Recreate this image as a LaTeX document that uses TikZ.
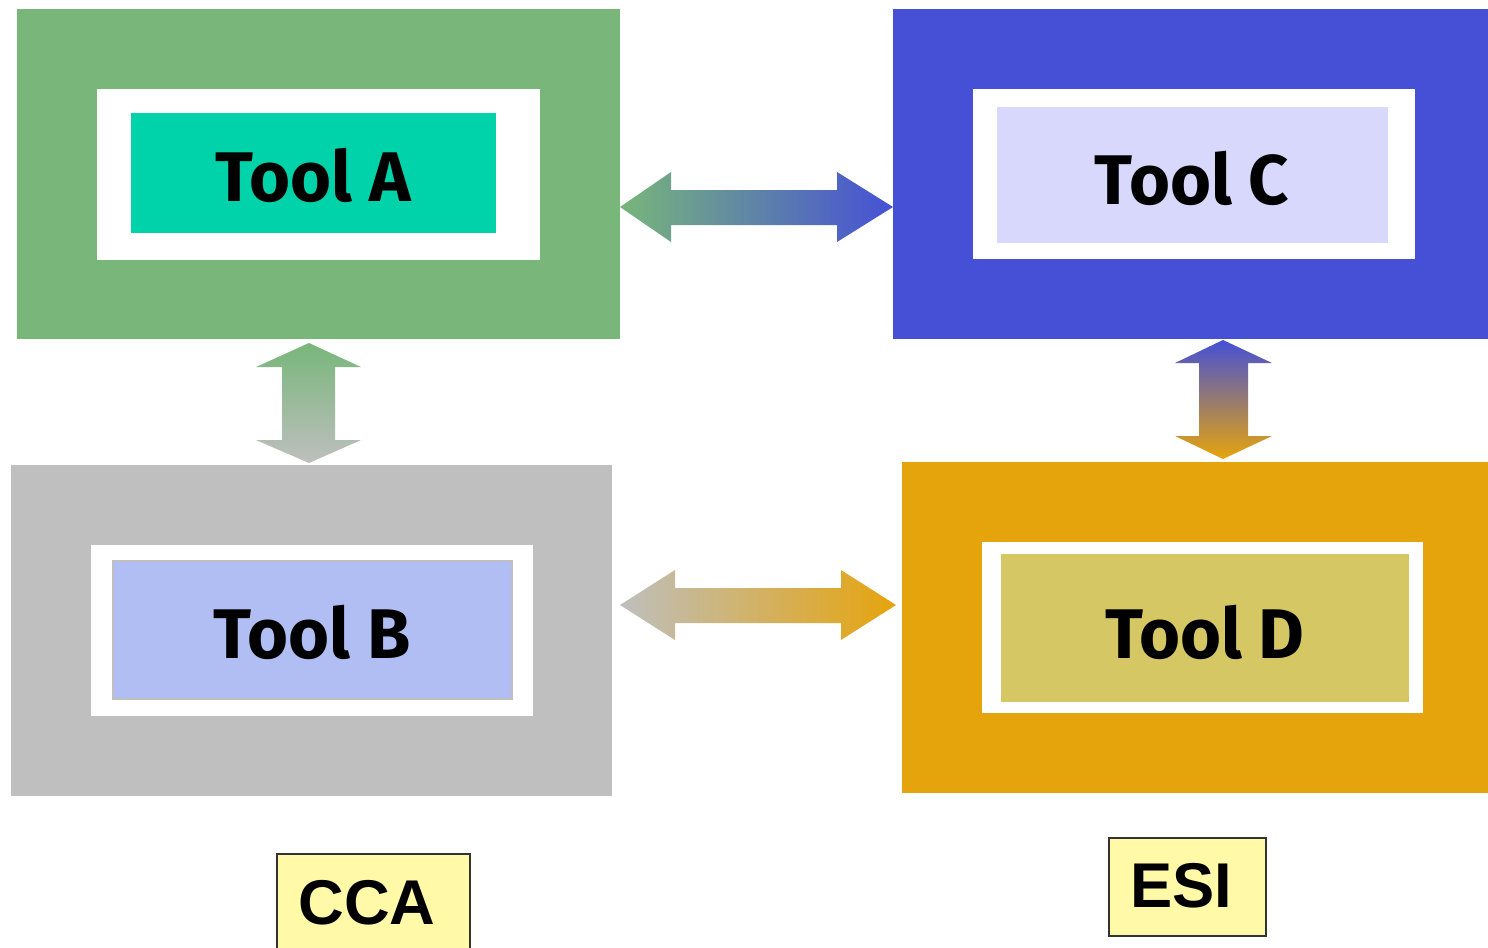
\documentclass[tikz,border=0pt]{standalone}
\usepackage{fontspec}
\setmainfont{Liberation Sans}
\newfontfamily\toolfont{Fira Sans}
\definecolor{grnA}{HTML}{78B67A}
\definecolor{bluC}{HTML}{4550D6}
\definecolor{gryB}{HTML}{BEBFBE}
\definecolor{orgD}{HTML}{E6A40C}
\definecolor{tealA}{HTML}{00D2AA}
\definecolor{lavC}{HTML}{D7D8FC}
\definecolor{periB}{HTML}{B1BEF4}
\definecolor{oliveD}{HTML}{D6C765}
\definecolor{tagfill}{HTML}{FFF9A8}
\tikzset{
  toollabel/.style={font=\toolfont\bfseries\fontsize{40}{48}\selectfont, text=black},
  tag/.style={draw=black!80, line width=1pt, fill=tagfill, inner sep=0pt,
              font=\bfseries\fontsize{36}{42}\selectfont}
}
\begin{document}
\begin{tikzpicture}[x=0.02cm, y=-0.02cm]
\useasboundingbox (0,0) rectangle (1488,947);

% Tool A (green frame)
\fill[grnA] (17,9) rectangle (620,339);
\fill[white] (97,89) rectangle (540,260);
\fill[tealA] (131,113) rectangle (496,233);
\node[toollabel] (toolA) at (313,175) {Tool A};

% Tool C (blue frame)
\fill[bluC] (893,9) rectangle (1488,339);
\fill[white] (973,89) rectangle (1415,259);
\fill[lavC] (997,107) rectangle (1388,243);
\node[toollabel] (toolC) at (1192,178) {Tool C};

% Tool B (grey frame)
\fill[gryB] (11,465) rectangle (612,796);
\fill[white] (91,545) rectangle (533,716);
\filldraw[fill=periB, draw=black!25, line width=0.8pt] (113,561) rectangle (512,699);
\node[toollabel] (toolB) at (312,632) {Tool B};

% Tool D (orange frame)
\fill[orgD] (902,462) rectangle (1488,793);
\fill[white] (982,542) rectangle (1423,713);
\fill[oliveD] (1001,554) rectangle (1409,702);
\node[toollabel] (toolD) at (1205,632) {Tool D};

% Double arrows with colour blends
\shade[left color=grnA, right color=bluC]
  (620,207) -- (671,172) -- (671,190) -- (837,190) -- (837,172) -- (893,207)
  -- (837,242) -- (837,225) -- (671,225) -- (671,242) -- cycle;
\shade[left color=gryB, right color=orgD]
  (620,605) -- (675,570) -- (675,588) -- (841,588) -- (841,570) -- (896,605)
  -- (841,640) -- (841,623) -- (675,623) -- (675,640) -- cycle;
\shade[top color=grnA, bottom color=gryB]
  (309,343) -- (361,367) -- (335,367) -- (335,440) -- (361,440) -- (309,463)
  -- (256,440) -- (282,440) -- (282,367) -- (256,367) -- cycle;
\shade[top color=bluC, bottom color=orgD]
  (1223,340) -- (1272,363) -- (1248,363) -- (1248,436) -- (1272,436) -- (1223,459)
  -- (1175,436) -- (1199,436) -- (1199,363) -- (1175,363) -- cycle;

% Group tags
\node[tag, minimum width=193*0.02cm, minimum height=110*0.02cm, anchor=north west,
      text depth=0pt] (cca) at (276,853) {};
\node[font=\bfseries\fontsize{36}{42}\selectfont] (ccatext) at (367,903) {CCA};
\node[tag, minimum width=157*0.02cm, minimum height=98*0.02cm, anchor=north west] (esi) at (1108,837) {};
\node[font=\bfseries\fontsize{36}{42}\selectfont] (esitext) at (1181,886) {ESI};
\end{tikzpicture}
\end{document}
